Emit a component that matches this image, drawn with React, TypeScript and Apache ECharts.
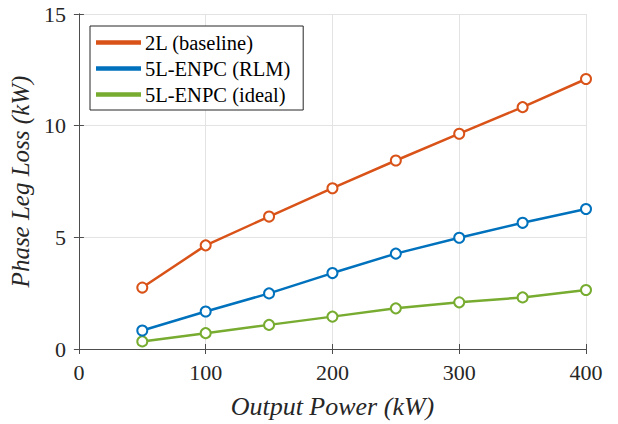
import React, { useEffect, useRef } from "react";
import * as echarts from "echarts";

const xValues = [50, 100, 150, 200, 250, 300, 350, 400];
const seriesNames = ["2L (baseline)", "5L-ENPC (RLM)", "5L-ENPC (ideal)"];
const loss2L = [2.75, 4.64, 5.93, 7.2, 8.44, 9.64, 10.83, 12.09];
const lossRLM = [0.83, 1.68, 2.49, 3.4, 4.27, 4.98, 5.65, 6.27];
const lossIdeal = [0.34, 0.71, 1.08, 1.45, 1.82, 2.09, 2.31, 2.64];
const colors = ["#D95319", "#0072BD", "#77AC30"];

const FONT = "Liberation Serif";

export default function App() {
  const ref = useRef<HTMLDivElement>(null);
  useEffect(() => {
    if (!ref.current) return;
    const chart = echarts.init(ref.current, undefined, { renderer: "svg" });
    const data = [loss2L, lossRLM, lossIdeal];
    const axisLineStyle = { color: "#4d4d4d", width: 1 };
    const baseX = {
      type: "value" as const,
      min: 0,
      max: 400,
      interval: 100,
    };
    const baseY = {
      type: "value" as const,
      min: 0,
      max: 15,
      interval: 5,
    };
    chart.setOption({
      animation: false,
      backgroundColor: "#ffffff",
      textStyle: { fontFamily: FONT },
      grid: { left: 78, right: 32, top: 14, bottom: 73, containLabel: false },
      legend: {
        orient: "vertical",
        left: 90,
        top: 26,
        data: seriesNames,
        icon: "rect",
        itemWidth: 43,
        itemHeight: 2.5,
        itemGap: 5,
        padding: [6, 13, 5, 6],
        borderColor: "#262626",
        borderWidth: 1,
        backgroundColor: "#ffffff",
        selectedMode: false,
        textStyle: {
          fontFamily: FONT,
          fontSize: 20.5,
          lineHeight: 20.5,
          color: "#000000",
          padding: [0, 0, 0, 0],
        },
      },
      xAxis: [
        {
          ...baseX,
          position: "bottom",
          name: "Output Power (kW)",
          nameLocation: "middle",
          nameGap: 44,
          nameTextStyle: {
            fontFamily: FONT,
            fontStyle: "italic",
            fontSize: 26,
            color: "#262626",
          },
          axisLine: { show: true, lineStyle: axisLineStyle },
          axisTick: { show: true, inside: true, length: 5, lineStyle: axisLineStyle },
          axisLabel: {
            fontFamily: FONT,
            fontSize: 22,
            color: "#262626",
            margin: 12,
          },
          splitLine: { show: true, lineStyle: { color: "#e3e3e3", width: 1 } },
        },
        {
          ...baseX,
          position: "top",
          axisLine: { show: true, lineStyle: axisLineStyle },
          axisTick: { show: true, inside: true, length: 5, lineStyle: axisLineStyle },
          axisLabel: { show: false },
          splitLine: { show: false },
        },
      ],
      yAxis: [
        {
          ...baseY,
          position: "left",
          name: "Phase Leg Loss (kW)",
          nameLocation: "middle",
          nameGap: 35,
          nameTextStyle: {
            fontFamily: FONT,
            fontStyle: "italic",
            fontSize: 25,
            color: "#262626",
          },
          axisLine: { show: true, lineStyle: axisLineStyle },
          axisTick: { show: true, inside: true, length: 5, lineStyle: axisLineStyle },
          axisLabel: {
            fontFamily: FONT,
            fontSize: 22,
            color: "#262626",
            margin: 13,
          },
          splitLine: { show: true, lineStyle: { color: "#e3e3e3", width: 1 } },
        },
        {
          ...baseY,
          position: "right",
          axisLine: { show: true, lineStyle: axisLineStyle },
          axisTick: { show: true, inside: true, length: 5, lineStyle: axisLineStyle },
          axisLabel: { show: false },
          splitLine: { show: false },
        },
      ],
      series: seriesNames.map((name, i) => ({
        name,
        type: "line",
        xAxisIndex: 0,
        yAxisIndex: 0,
        data: xValues.map((x, j) => [x, data[i][j]]),
        symbol: "emptyCircle",
        symbolSize: 10,
        showSymbol: true,
        lineStyle: { color: colors[i], width: 2.5 },
        itemStyle: { color: colors[i], borderColor: colors[i], borderWidth: 1 },
        color: colors[i],
        z: 3 - i + 2,
      })),
    });
    return () => chart.dispose();
  }, []);
  return (
    <div
      ref={ref}
      style={{ position: "fixed", left: 0, top: 0, width: 618, height: 424 }}
    />
  );
}
